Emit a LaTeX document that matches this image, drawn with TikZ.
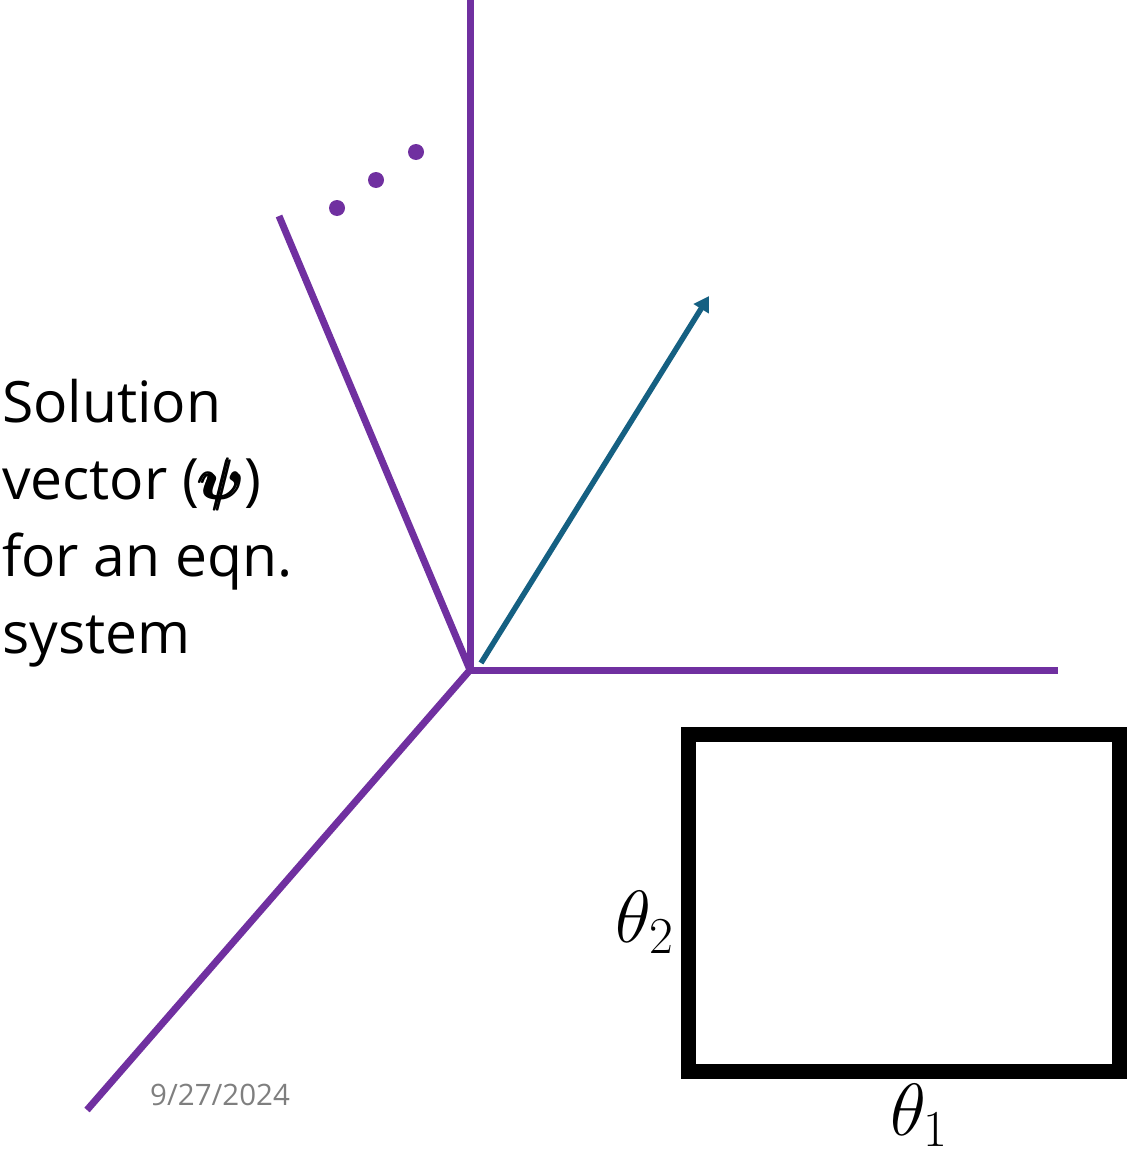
\RequirePackage{fix-cm}
\documentclass[tikz,border=0pt]{standalone}
\usepackage{amsmath,amssymb}
\usepackage{fontspec}
\setmainfont{Open Sans}
\usetikzlibrary{arrows.meta}
\definecolor{axispurple}{HTML}{7030A0}
\definecolor{vecteal}{HTML}{156082}
\definecolor{dategray}{HTML}{7F7F7F}
\begin{document}
\begin{tikzpicture}[x=1pt,y=-1pt,
  axis/.style={draw=axispurple,line width=7pt},
  dotmark/.style={fill=axispurple},
  vec/.style={draw=vecteal,line width=5.5pt,-{Triangle[length=15pt,width=17pt]}},
  box/.style={draw=black,line width=15pt,miter limit=10,minimum width=431pt,minimum height=337pt,inner sep=0pt},
  lbl/.style={inner sep=0pt,font=\fontsize{57}{77}\selectfont,align=left},
  thlbl/.style={inner sep=0pt,font=\fontsize{74}{80}\selectfont}]
\useasboundingbox (0,0) rectangle (1127,1153);
% axes
\coordinate (O) at (470,670);
\coordinate (up) at (470,0);
\coordinate (right) at (1058,670);
\coordinate (low) at (87,1110);
\coordinate (tilt) at (279,216);
\draw[axis] (O) -- (up);
\draw[axis] (O) -- (right);
\draw[axis] (O) -- (low);
\draw[axis] (O) -- (tilt);
% dots
\fill[dotmark] (337,208) circle (8);
\fill[dotmark] (376,180) circle (8);
\fill[dotmark] (416,152) circle (8);
% vector
\coordinate (vs) at (481,663);
\coordinate (ve) at (709,296);
\draw[vec] (vs) -- (ve);
% text
\node[lbl,anchor=north west] (txt) at (2,379) {Solution\\vector ({\boldmath$\pmb{\psi}$})\\for an eqn.\\system};
% date
\node[inner sep=0pt,anchor=base west,text=dategray,font=\fontsize{29.5}{32}\selectfont] (date) at (150,1105) {9/27/2024};
% box
\node[box] (bx) at (903.5,902.5) {};
\node[thlbl,anchor=base east] (t2) at (674,942) {$\theta_2$};
\node[thlbl,anchor=base] (t1) at (919,1135) {$\theta_1$};
\end{tikzpicture}
\end{document}
